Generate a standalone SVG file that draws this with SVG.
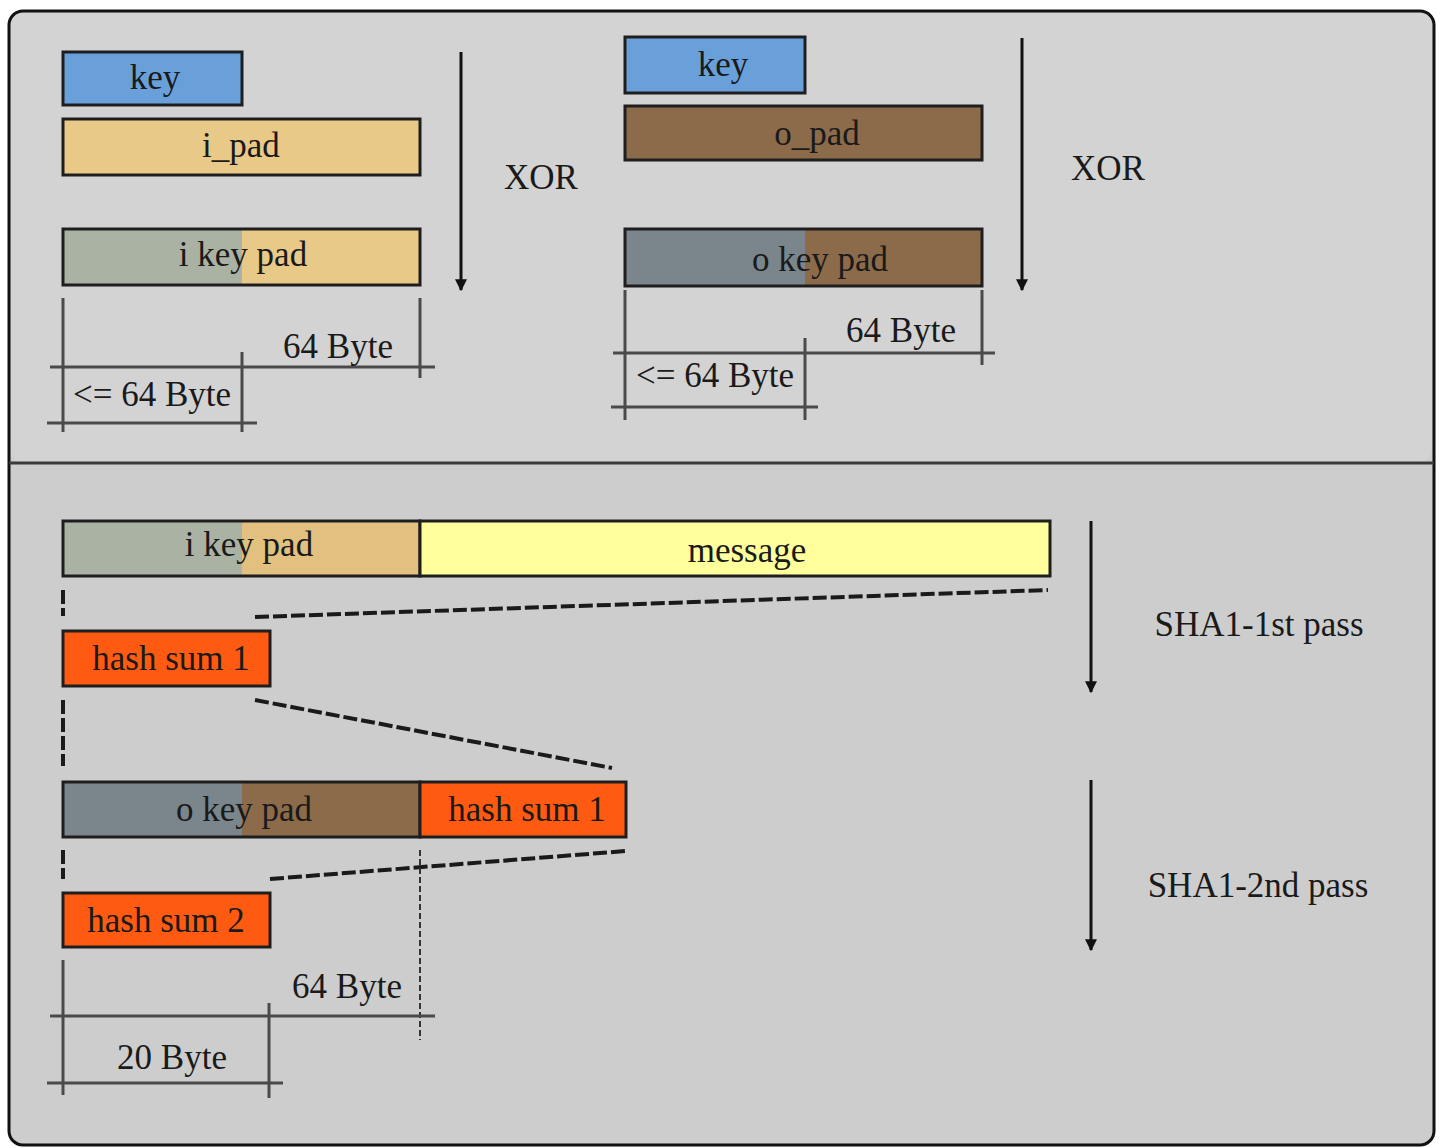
<svg xmlns="http://www.w3.org/2000/svg" width="1443" height="1148" viewBox="0 0 1443 1148">
<style>
.box{stroke:#1e1e1e;stroke-width:3}
.t{font-family:"Liberation Serif","Times New Roman",serif;font-size:35px;fill:#1a1a1a;text-anchor:middle}
.dim{stroke:#4a4a4a;stroke-width:3;fill:none}
.dash{stroke:#1a1a1a;stroke-width:4;stroke-dasharray:14 4;fill:none}
.arr{stroke:#111;stroke-width:3;fill:none}
</style>
<defs>
<marker id="ah" viewBox="0 0 10 10" refX="9" refY="5" markerWidth="4" markerHeight="4" orient="auto">
<path d="M0,0 L10,5 L0,10 z" fill="#111"/>
</marker>
</defs>
<rect x="0" y="0" width="1443" height="1148" fill="#ffffff"/>
<g id="frame">
<rect x="9" y="11" width="1425" height="1134" rx="14" fill="#cdcdcd" stroke="#111" stroke-width="3"/>
<rect x="11" y="13" width="1421" height="449" rx="12" fill="#d3d3d3"/>
<line x1="9" y1="463" x2="1434" y2="463" stroke="#3a3a3a" stroke-width="3"/>
</g>
<g id="connectors">
<line class="arr" x1="461" y1="52" x2="461" y2="290" marker-end="url(#ah)"/>
<line class="arr" x1="1022" y1="38" x2="1022" y2="290" marker-end="url(#ah)"/>
<line class="arr" x1="1091" y1="521" x2="1091" y2="692" marker-end="url(#ah)"/>
<line class="arr" x1="1091" y1="780" x2="1091" y2="950" marker-end="url(#ah)"/>
<line class="dash" x1="63" y1="590" x2="63" y2="616"/>
<line class="dash" x1="255" y1="617" x2="1048" y2="590"/>
<line class="dash" x1="63" y1="700" x2="63" y2="766"/>
<line class="dash" x1="255" y1="700" x2="612" y2="768"/>
<line class="dash" x1="63" y1="850" x2="63" y2="879"/>
<line class="dash" x1="270" y1="879" x2="626" y2="851"/>
<line stroke="#333" stroke-width="2" stroke-dasharray="6 3" x1="420" y1="850" x2="420" y2="1040"/>
</g>
<g id="dims-top-left">
<line class="dim" x1="63" y1="298" x2="63" y2="432"/>
<line class="dim" x1="420" y1="298" x2="420" y2="378"/>
<line class="dim" x1="242" y1="352" x2="242" y2="432"/>
<line class="dim" x1="50" y1="367" x2="435" y2="367"/>
<line class="dim" x1="47" y1="423" x2="257" y2="423"/>
<text class="t" x="338" y="358">64 Byte</text>
<text class="t" x="152" y="406">&lt;= 64 Byte</text>
</g>
<g id="dims-top-right">
<line class="dim" x1="625" y1="290" x2="625" y2="420"/>
<line class="dim" x1="982" y1="290" x2="982" y2="365"/>
<line class="dim" x1="805" y1="338" x2="805" y2="420"/>
<line class="dim" x1="613" y1="353" x2="995" y2="353"/>
<line class="dim" x1="611" y1="407" x2="818" y2="407"/>
<text class="t" x="901" y="342">64 Byte</text>
<text class="t" x="715" y="387">&lt;= 64 Byte</text>
</g>
<g id="dims-bottom">
<line class="dim" x1="63" y1="960" x2="63" y2="1095"/>
<line class="dim" x1="269" y1="1003" x2="269" y2="1098"/>
<line class="dim" x1="50" y1="1016" x2="435" y2="1016"/>
<line class="dim" x1="47" y1="1083" x2="283" y2="1083"/>
<text class="t" x="347" y="998">64 Byte</text>
<text class="t" x="172" y="1069">20 Byte</text>
</g>
<g id="key1">
<rect class="box" x="63" y="52" width="179" height="53" fill="#6aa0da"/>
<text class="t" x="155" y="89">key</text>
</g>
<g id="ipad">
<rect class="box" x="63" y="119" width="357" height="56" fill="#e9c987"/>
<text class="t" x="241" y="157">i_pad</text>
</g>
<g id="ikeypad1">
<rect x="63" y="229" width="179" height="56" fill="#a9b2a3"/>
<rect x="242" y="229" width="178" height="56" fill="#e9c987"/>
<rect class="box" x="63" y="229" width="357" height="56" fill="none"/>
<text class="t" x="243" y="266">i key pad</text>
</g>
<text class="t" x="541" y="189">XOR</text>
<g id="key2">
<rect class="box" x="625" y="37" width="180" height="56" fill="#6aa0da"/>
<text class="t" x="723" y="76">key</text>
</g>
<g id="opad">
<rect class="box" x="625" y="106" width="357" height="54" fill="#8c6b4a"/>
<text class="t" x="817" y="145">o_pad</text>
</g>
<g id="okeypad1">
<rect x="625" y="229" width="180" height="57" fill="#7b868c"/>
<rect x="805" y="229" width="177" height="57" fill="#8c6b4a"/>
<rect class="box" x="625" y="229" width="357" height="57" fill="none"/>
<text class="t" x="820" y="271">o key pad</text>
</g>
<text class="t" x="1108" y="180">XOR</text>
<g id="ikeypad2">
<rect x="63" y="521" width="179" height="55" fill="#a9b2a3"/>
<rect x="242" y="521" width="178" height="55" fill="#e2c080"/>
<rect class="box" x="63" y="521" width="357" height="55" fill="none"/>
<text class="t" x="249" y="556">i key pad</text>
</g>
<g id="message">
<rect class="box" x="420" y="521" width="630" height="55" fill="#ffff9c"/>
<text class="t" x="747" y="562">message</text>
</g>
<g id="hashsum1">
<rect class="box" x="63" y="631" width="207" height="55" fill="#ff5a12"/>
<text class="t" x="171" y="670">hash sum 1</text>
</g>
<g id="okeypad2">
<rect x="63" y="782" width="179" height="55" fill="#7b868c"/>
<rect x="242" y="782" width="178" height="55" fill="#8c6b4a"/>
<rect class="box" x="63" y="782" width="357" height="55" fill="none"/>
<text class="t" x="244" y="821">o key pad</text>
</g>
<g id="hashsum1b">
<rect class="box" x="420" y="782" width="206" height="55" fill="#ff5a12"/>
<text class="t" x="527" y="821">hash sum 1</text>
</g>
<g id="hashsum2">
<rect class="box" x="63" y="893" width="207" height="54" fill="#ff5a12"/>
<text class="t" x="166" y="932">hash sum 2</text>
</g>
<text class="t" x="1259" y="636">SHA1-1st pass</text>
<text class="t" x="1258" y="897">SHA1-2nd pass</text>
</svg>
